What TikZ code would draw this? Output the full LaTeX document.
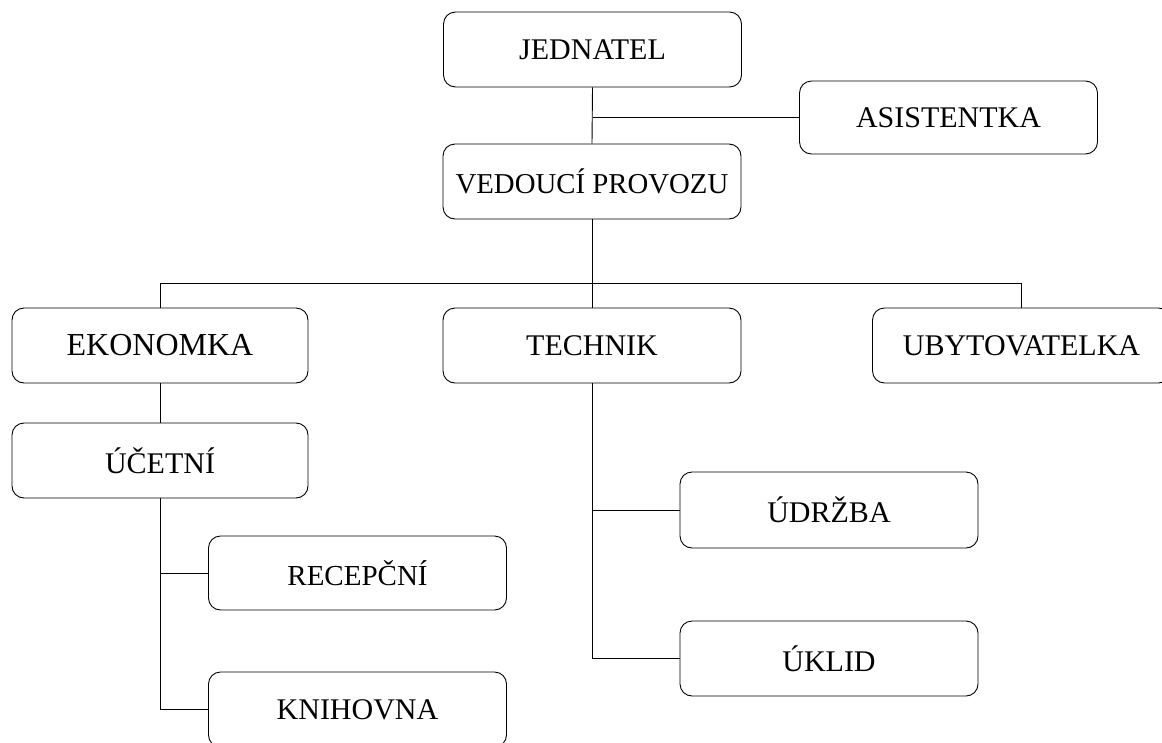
\documentclass[tikz,border=0pt]{standalone}
\usepackage{fontspec}
\setmainfont{Liberation Serif}
\begin{document}
\begin{tikzpicture}[x=1pt,y=-1pt,
  box/.style={draw, line width=0.9pt, rounded corners=12pt, minimum width=298pt, minimum height=75pt, inner sep=0pt, font=\fontsize{30}{32}\selectfont},
  conn/.style={line width=0.9pt}]
\useasboundingbox (0,0) rectangle (1162,742);
\clip (0,0) rectangle (1162,742);
\node[box] (jed) at (592.5,49.5) {JEDNATEL};
\node[box, minimum height=73pt] (asi) at (948.5,117.5) {ASISTENTKA};
\node[box, font=\fontsize{28.8}{30}\selectfont] (ved) at (592,181.5) {VEDOUCÍ PROVOZU};
\node[box, font=\fontsize{32}{34}\selectfont, minimum width=296pt] (eko) at (160,345.5) {EKONOMKA};
\node[box] (tec) at (592,345.5) {TECHNIK};
\node[box] (uby) at (1021.5,345.5) {UBYTOVATELKA};
\node[box, minimum width=296pt] (uce) at (160,460.5) {ÚČETNÍ};
\node[box, minimum height=74pt, font=\fontsize{29}{31}\selectfont] (rec) at (357.5,573) {RECEPČNÍ};
\node[box] (kni) at (357.5,709.5) {KNIHOVNA};
\node[box, minimum height=76pt] (udr) at (829,510) {ÚDRŽBA};
\node[box] (ukl) at (829,658.5) {ÚKLID};
\draw[conn] (jed.south) -- (ved.north);
\draw[conn] (jed.south |- asi.west) -- (asi.west);
\draw[conn] (ved.south) -- (tec.north);
\draw[conn] (eko.north) -- (eko.north |- 0,283) -- (uby.north |- 0,283) -- (uby.north);
\draw[conn] (eko.south) -- (uce.north);
\draw[conn] (uce.south) -- (uce.south |- kni.west) -- (kni.west);
\draw[conn] (uce.south |- rec.west) -- (rec.west);
\draw[conn] (tec.south) -- (tec.south |- ukl.west) -- (ukl.west);
\draw[conn] (tec.south |- udr.west) -- (udr.west);
\end{tikzpicture}
\end{document}
